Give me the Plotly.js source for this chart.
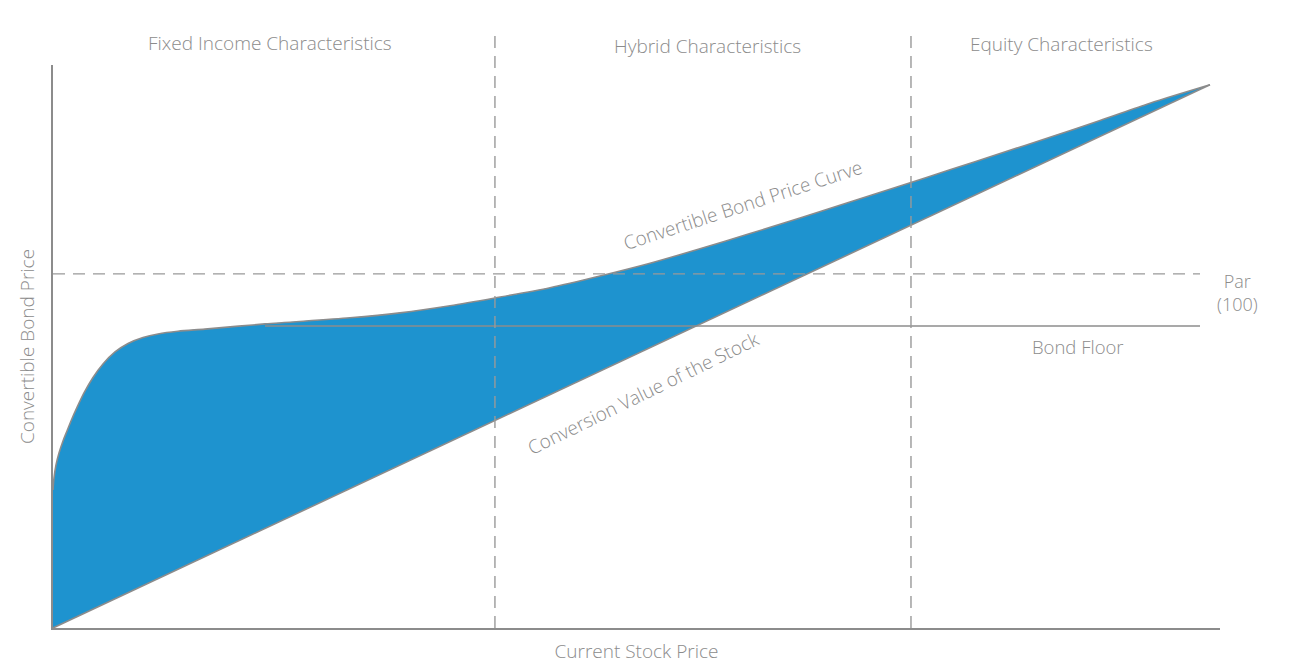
<!DOCTYPE html>
<html>
<head>
<meta charset="utf-8">
<script src="https://cdn.plot.ly/plotly-3.0.1.min.js"></script>
<style>html,body{margin:0;padding:0;background:#fff;}#chart{width:1298px;height:670px;}</style>
</head>
<body>
<div id="chart"></div>
<script>
// Convertible bond price curve (stock price vs bond price)
const curveX = [0, 0.0857, 0.257, 0.514, 0.857, 1.2, 1.542, 2.057, 2.656, 3.428, 4.284, 5.313, 6.427, 7.712, 8.997, 10.71, 13.02, 18.17, 25.45, 29.73, 34.02, 37.87, 42.59, 46.87, 51.16, 55.44, 59.73, 64.01, 68.29, 72.58, 76.86, 81.15, 85.43, 89.72, 94.0, 99.14];
const curveY = [38.98, 42.37, 46.05, 49.44, 52.82, 55.65, 58.47, 62.29, 66.38, 70.76, 74.58, 77.97, 80.37, 82.06, 83.05, 83.81, 84.41, 85.88, 87.6, 89.0, 91.0, 93.2, 96.1, 99.4, 103.0, 107.1, 111.4, 115.8, 120.3, 124.8, 129.4, 134.0, 138.6, 143.3, 148.2, 153.4];
// Conversion value of the stock (straight line)
const conversionX = [0, 99.14];
const conversionY = [0, 153.4];
// Bond floor and par
const bondFloorX = [18.17, 98.29];
const bondFloorY = [85.3, 85.3];
const parX = [0, 98.29];
const parY = [100, 100];
// Region boundaries
const regionBounds = [37.87, 73.52];
const regionLabels = ["Fixed Income Characteristics", "Hybrid Characteristics", "Equity Characteristics"];

const grey = "#8c8c8c";
const fontFam = "'Open Sans', Roboto, 'Liberation Sans', sans-serif";
const f = (s) => ({family: fontFam, size: s, color: grey, weight: 300});

const traces = [
  {x: conversionX, y: conversionY, mode: "lines", line: {color: grey, width: 1.6}, hoverinfo: "skip", showlegend: false},
  {x: curveX, y: curveY, mode: "lines", line: {color: grey, width: 1.6, shape: "spline", smoothing: 0.8}, fill: "tonexty", fillcolor: "#1e93cf", hoverinfo: "skip", showlegend: false},
  {x: bondFloorX, y: bondFloorY, mode: "lines", line: {color: grey, width: 1.4}, hoverinfo: "skip", showlegend: false},
  {x: parX, y: parY, mode: "lines", line: {color: "#999999", width: 1.4, dash: "12px,8px"}, hoverinfo: "skip", showlegend: false}
];

const shapes = regionBounds.map(b => ({
  type: "line", xref: "x", yref: "paper", x0: b, x1: b, y0: 0, y1: 1.062,
  line: {color: "#999999", width: 1.4, dash: "12px,8px"}
}));

const ann = (x, y, xref, yref, text, size, angle) => ({
  x: x, y: y, xref: xref, yref: yref, text: text, showarrow: false,
  xanchor: "center", yanchor: "middle", textangle: angle || 0, font: f(size)
});
const annotations = [
  ann(18.6, 1.039, "x", "paper", regionLabels[0], 19),
  ann(56.1, 1.033, "x", "paper", regionLabels[1], 19),
  ann(86.4, 1.037, "x", "paper", regionLabels[2], 19),
  ann(1.015, 0.5959, "paper", "paper", "Par<br>(100)", 18),
  ann(87.8, 79.4, "x", "y", "Bond Floor", 18.5),
  ann(59.1, 119.5, "x", "y", "Convertible Bond Price Curve", 19, -18),
  ann(50.6, 66.4, "x", "y", "Conversion Value of the Stock", 19, -26)
];

const layout = {
  width: 1298, height: 670,
  margin: {l: 53, r: 78, t: 65, b: 42},
  paper_bgcolor: "#ffffff", plot_bgcolor: "#ffffff",
  showlegend: false,
  xaxis: {range: [0, 100], showgrid: false, zeroline: false, showticklabels: false, ticks: "",
          showline: true, linecolor: grey, linewidth: 2, fixedrange: true,
          title: {text: "Current Stock Price", standoff: 16, font: f(19)}},
  yaxis: {range: [0, 159], showgrid: false, zeroline: false, showticklabels: false, ticks: "",
          showline: true, linecolor: grey, linewidth: 2, fixedrange: true,
          title: {text: "Convertible Bond Price", standoff: 11, font: f(19)}},
  shapes: shapes,
  annotations: annotations
};

Plotly.newPlot("chart", traces, layout, {displayModeBar: false, staticPlot: true});
</script>
</body>
</html>
